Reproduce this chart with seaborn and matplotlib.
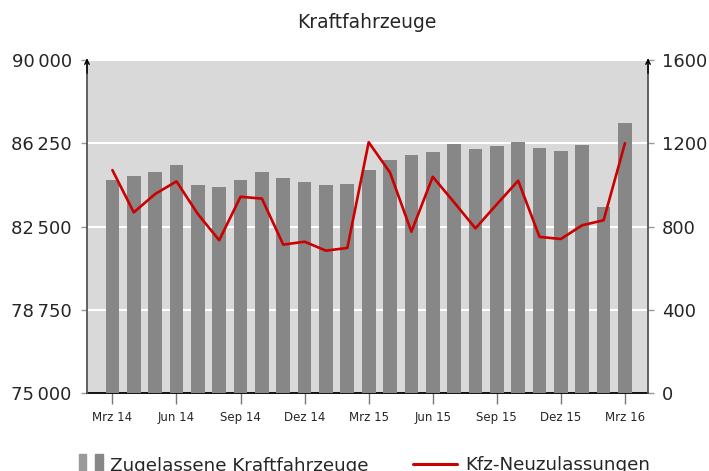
import numpy as np
import pandas as pd
import matplotlib.pyplot as plt
import seaborn as sns
from matplotlib.patches import Rectangle
from matplotlib.lines import Line2D
from matplotlib.legend_handler import HandlerTuple

# months Mrz 14 .. Mrz 16
months = ["Mrz 14", "Apr 14", "Mai 14", "Jun 14", "Jul 14", "Aug 14", "Sep 14",
          "Okt 14", "Nov 14", "Dez 14", "Jan 15", "Feb 15", "Mrz 15", "Apr 15",
          "Mai 15", "Jun 15", "Jul 15", "Aug 15", "Sep 15", "Okt 15", "Nov 15",
          "Dez 15", "Jan 16", "Feb 16", "Mrz 16"]

# Zugelassene Kraftfahrzeuge (left axis)
bestand = [84610, 84790, 84950, 85290, 84390, 84290, 84610, 84960, 84690,
           84510, 84390, 84430, 85040, 85500, 85720, 85870, 86210, 86010,
           86140, 86300, 86040, 85890, 86170, 83390, 87170]

# Kfz-Neuzulassungen (right axis)
neu = [1071, 868, 956, 1017, 860, 734, 943, 934, 713, 727, 684, 697, 1205,
       1059, 775, 1039, 916, 791, 907, 1020, 750, 740, 806, 830, 1200]

left_ticks = [75000, 78750, 82500, 86250, 90000]
left_labels = ["75\u2009000", "78\u2009750", "82\u2009500", "86\u2009250", "90\u2009000"]
right_ticks = [0, 400, 800, 1200, 1600]
xtick_labels = ["Mrz 14", "Jun 14", "Sep 14", "Dez 14", "Mrz 15", "Jun 15",
                "Sep 15", "Dez 15", "Mrz 16"]

df = pd.DataFrame({"monat": months, "bestand": bestand, "neu": neu})
df["pos"] = np.arange(len(df))

sns.set_style("white")
plt.rcParams["font.family"] = ["DejaVu Sans"]

fig = plt.figure(figsize=(7.09, 4.71), dpi=100)
rect = [0.1227, 0.1656, 0.7913, 0.707]

# background axes: gray area + white guide lines, kept behind the bars
ax_bg = fig.add_axes(rect, zorder=0)
ax_bg.set_ylim(75000, 90000)
ax_bg.axhspan(75000, 90000, color="#d9d9d9", lw=0)
for yv in left_ticks[1:]:
    ax_bg.axhline(yv, color="white", linewidth=1.5)
ax_bg.axis("off")

ax = fig.add_axes(rect, zorder=1)
ax.patch.set_visible(False)

bar_color = "#878787"
sns.barplot(data=df, x="monat", y="bestand", color=bar_color, saturation=1,
            width=0.64, linewidth=0, alpha=1, errorbar=None, ax=ax, zorder=3)
ax.set_ylim(75000, 90000)
ax.set_xlim(-1.19, 25.08)
ax.set_yticks(left_ticks)
ax.set_yticklabels(left_labels, fontsize=13)
ax.set_xticks(np.arange(0, 25, 3))
ax.set_xticklabels(xtick_labels, fontsize=8.5)
ax.set_xlabel("")
ax.set_ylabel("")
ax.grid(False)
ax.tick_params(axis="y", left=True, direction="out", length=4, width=1,
               color="#999999", pad=7)
ax.tick_params(axis="x", bottom=True, direction="out", length=8, width=1,
               color="#777777", pad=5)

ax.spines["top"].set_visible(False)
ax.spines["right"].set_visible(False)
ax.spines["left"].set_color("#555555")
ax.spines["left"].set_linewidth(1.3)
ax.spines["bottom"].set_color("black")
ax.spines["bottom"].set_linewidth(1.3)
ax.spines["bottom"].set_zorder(2)

ax2 = ax.twinx()
ax2.set_zorder(2)
ax2.patch.set_visible(False)
sns.lineplot(data=df, x="pos", y="neu", color="#cc0000", linewidth=1.9,
             errorbar=None, ax=ax2)
ax2.grid(False)
ax2.set_ylim(0, 1600)
ax2.set_xlim(-1.19, 25.08)
ax2.set_yticks(right_ticks)
ax2.set_yticklabels([str(t) for t in right_ticks], fontsize=13)
ax2.set_ylabel("")
ax2.tick_params(axis="y", right=True, direction="out", length=4, width=1,
                color="#999999", pad=6)
for s in ["top", "left", "bottom"]:
    ax2.spines[s].set_visible(False)
ax2.spines["right"].set_color("#555555")
ax2.spines["right"].set_linewidth(1.3)

# arrow heads on the vertical axes
for xa in (0, 1):
    ax2.annotate("", xy=(xa, 1.005), xytext=(xa, 0.96), xycoords="axes fraction",
                 arrowprops=dict(arrowstyle="->", color="black", lw=1.0,
                                 mutation_scale=8, shrinkA=0, shrinkB=0))

fig.text(0.518, 0.953, "Kraftfahrzeuge", ha="center", va="center", fontsize=13.5)

# legend: two separate entries, as in the original
h_bars = (Rectangle((0, 0), 1, 1, color="#9a9a9a"), Rectangle((0, 0), 1, 1, color=bar_color))
h_line = Line2D([0], [0], color="#cc0000", linewidth=2.2)
fig.legend([h_bars], ["Zugelassene Kraftfahrzeuge"],
           handler_map={tuple: HandlerTuple(ndivide=None, pad=0.49)},
           loc="center left", bbox_to_anchor=(79 / 709, 0.012), frameon=False,
           fontsize=13.2, handlelength=1.3, handleheight=1.5, handletextpad=0.38,
           borderpad=0, borderaxespad=0)
fig.legend([h_line], ["Kfz-Neuzulassungen"],
           loc="center left", bbox_to_anchor=(413 / 709, 0.012), frameon=False,
           fontsize=13.2, handlelength=2.4, handletextpad=0.44,
           borderpad=0, borderaxespad=0)

fig.savefig("out.png", dpi=100)
